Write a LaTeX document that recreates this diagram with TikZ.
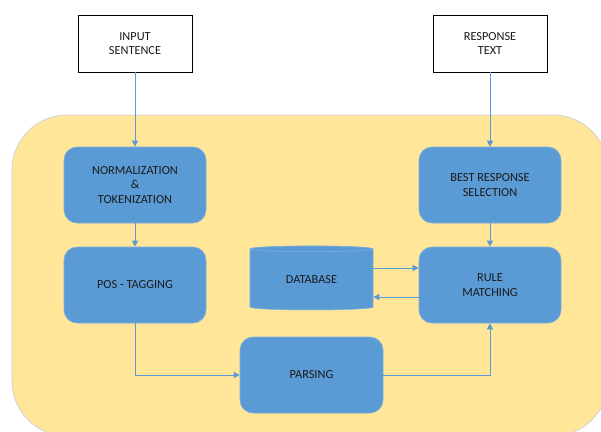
\documentclass[tikz,border=0pt]{standalone}
\usepackage{fontspec}
\setmainfont{Carlito}
\usepackage{tikz}
\usetikzlibrary{shapes.geometric, arrows.meta}

\definecolor{boxblue}{HTML}{5B9BD5}
\definecolor{edgeblue}{HTML}{7DAEDD}
\definecolor{panelyellow}{HTML}{FFE699}
\definecolor{txtdark}{HTML}{1A1A1A}

\tikzset{
  iobox/.style={rectangle, draw=black, line width=0.8pt, fill=white, minimum width=114, minimum height=57, align=center, text=txtdark},
  stepbox/.style={rectangle, rounded corners=13, draw=edgeblue, line width=0.6pt, fill=boxblue, minimum width=142, minimum height=76, align=center, text=txtdark},
  dbshape/.style={cylinder, shape border rotate=90, aspect=0.1, draw=edgeblue, line width=0.6pt, fill=boxblue, minimum width=123, minimum height=64, text=txtdark},
  flow/.style={draw=boxblue, line width=0.9pt, -{Triangle[length=6pt, width=6pt]}}
}

\begin{document}
\begin{tikzpicture}[x=1pt, y=-1pt, font=\fontsize{12.3}{14.5}\selectfont]
        \clip (0,0) rectangle (601,431);
        \useasboundingbox (0,0) rectangle (601,431);

        % Panel
        \fill[panelyellow, draw=gray!35, line width=0.8pt, rounded corners=55] (12,115) rectangle (608,436);

        % Nodes
        \node[iobox] (input) at (135, 43.5) {INPUT\\SENTENCE};
        \node[iobox] (response) at (490, 43.5) {RESPONSE\\TEXT};
        \node[stepbox] (norm) at (135, 185) {NORMALIZATION\\\&\\TOKENIZATION};
        \node[stepbox] (best) at (490, 185) {BEST RESPONSE\\SELECTION};
        \node[stepbox] (pos) at (135, 285) {POS - TAGGING};
        \node[stepbox] (rule) at (490, 285) {RULE\\MATCHING};
        \node[dbshape] (db) at (311.5, 280) {DATABASE};
        \node[stepbox, minimum width=143] (parse) at (311.5, 375) {PARSING};
        \coordinate (dbout) at ([yshift=12pt]db.east);
        \coordinate (dbin) at ([yshift=-17pt]db.east);

        % Lines
        \draw[flow] (input) -- (norm);
        \draw[flow] (response) -- (best);
        \draw[flow] (norm) -- (pos);
        \draw[flow] (best) -- (rule);
        \draw[flow] (pos.south) |- (parse.west);
        \draw[flow] (parse.east) -| (rule.south);
        \draw[flow] (dbout) -- (dbout -| rule.west);
        \draw[flow] (dbin -| rule.west) -- (dbin);
    \end{tikzpicture}
\end{document}
